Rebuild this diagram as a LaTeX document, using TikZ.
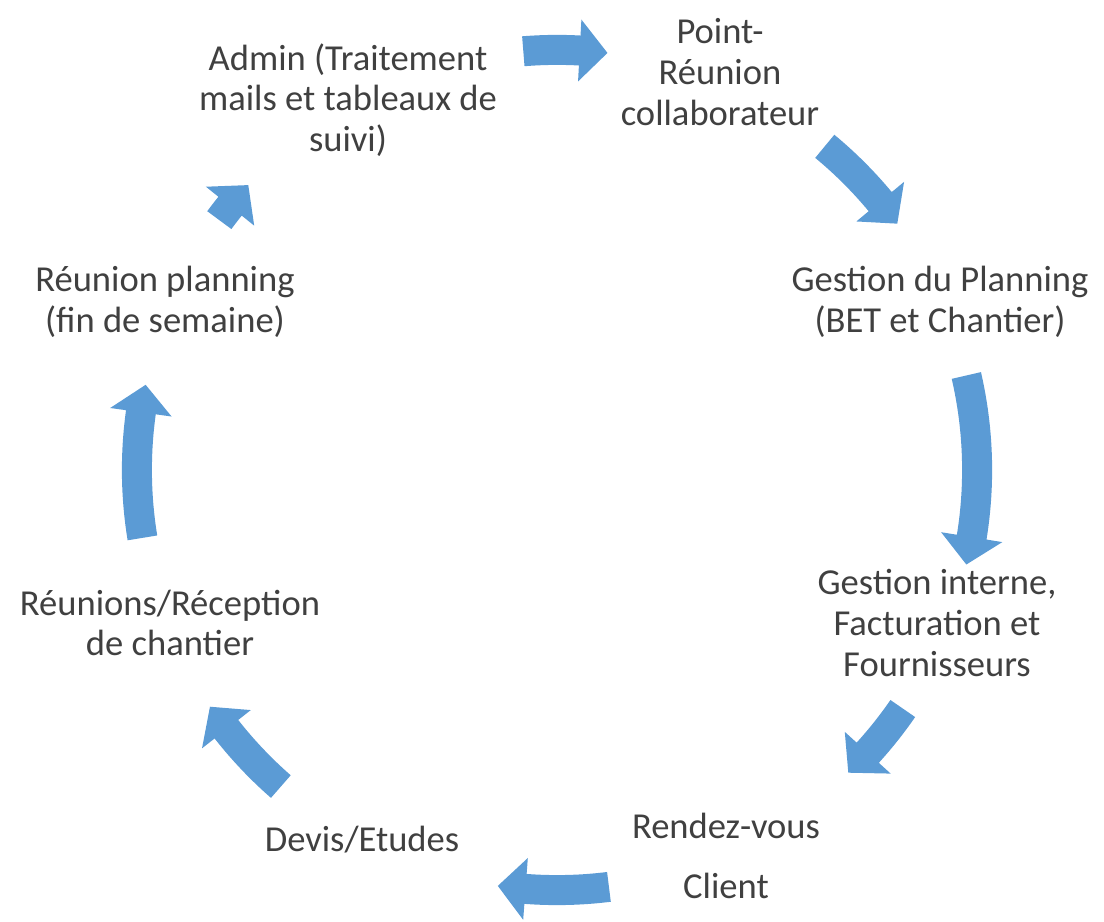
\documentclass[tikz,border=0pt]{standalone}
\usepackage{fontspec}
\setmainfont{Carlito}
\usepackage{tikz}
\usetikzlibrary{positioning}

% block arrow along the cycle circle (start angle, end angle)
\newcommand{\cyclearrow}[2]{%
  \pgfmathsetmacro{\headbase}{#2+3.8*sign(#1-#2)}%
  \fill[arrowfill] (#1:10.875cm) arc[start angle=#1, end angle=\headbase, radius=10.875cm]
    -- (\headbase:11.275cm) -- (#2:10.5cm) -- (\headbase:9.725cm)
    -- (\headbase:10.125cm) arc[start angle=\headbase, end angle=#1, radius=10.125cm] -- cycle;}

\begin{document}
\begin{tikzpicture}[x=0.025cm, y=0.025cm,
    steptext/.style={align=center, text=textgray, font=\fontsize{26}{29}\selectfont, inner sep=0pt}]
    % Colors
    \definecolor{arrowblue}{RGB}{91, 155, 213}
    \definecolor{textgray}{RGB}{64, 64, 64}
    \tikzset{arrowfill/.style={fill=arrowblue}}

    \useasboundingbox (0,0) rectangle (1104,921);

    % Steps
    \node[steptext] (admin) at (348,821) {Admin (Traitement\\mails et tableaux de\\suivi)};
    \node[steptext] (point) at (720,849) {Point-\\Réunion\\collaborateur};
    \node[steptext] (planning) at (940,619) {Gestion du Planning\\(BET et Chantier)};
    \node[steptext] (interne) at (937,298) {Gestion interne,\\Facturation et\\Fournisseurs};
    \node[steptext] (rdv) at (726,65) {Rendez-vous\\[14pt]Client};
    \node[steptext] (devis) at (362,81) {Devis/Etudes};
    \node[steptext] (reception) at (170,298) {Réunions/Réception\\de chantier};
    \node[steptext] (reunion) at (165,619) {Réunion planning\\(fin de semaine)};

    % Arrows of the cycle
    \begin{scope}[shift={(557,451)}]
      \cyclearrow{94.6}{83.1}
      \cyclearrow{50.4}{35.9}
      \cyclearrow{13}{-13}
      \cyclearrow{-34.6}{-46.1}
      \cyclearrow{-82.9}{-98.1}
      \cyclearrow{228.9}{214.3}
      \cyclearrow{189.3}{168.3}
      \cyclearrow{143.5}{137.3}
    \end{scope}
\end{tikzpicture}
\end{document}
